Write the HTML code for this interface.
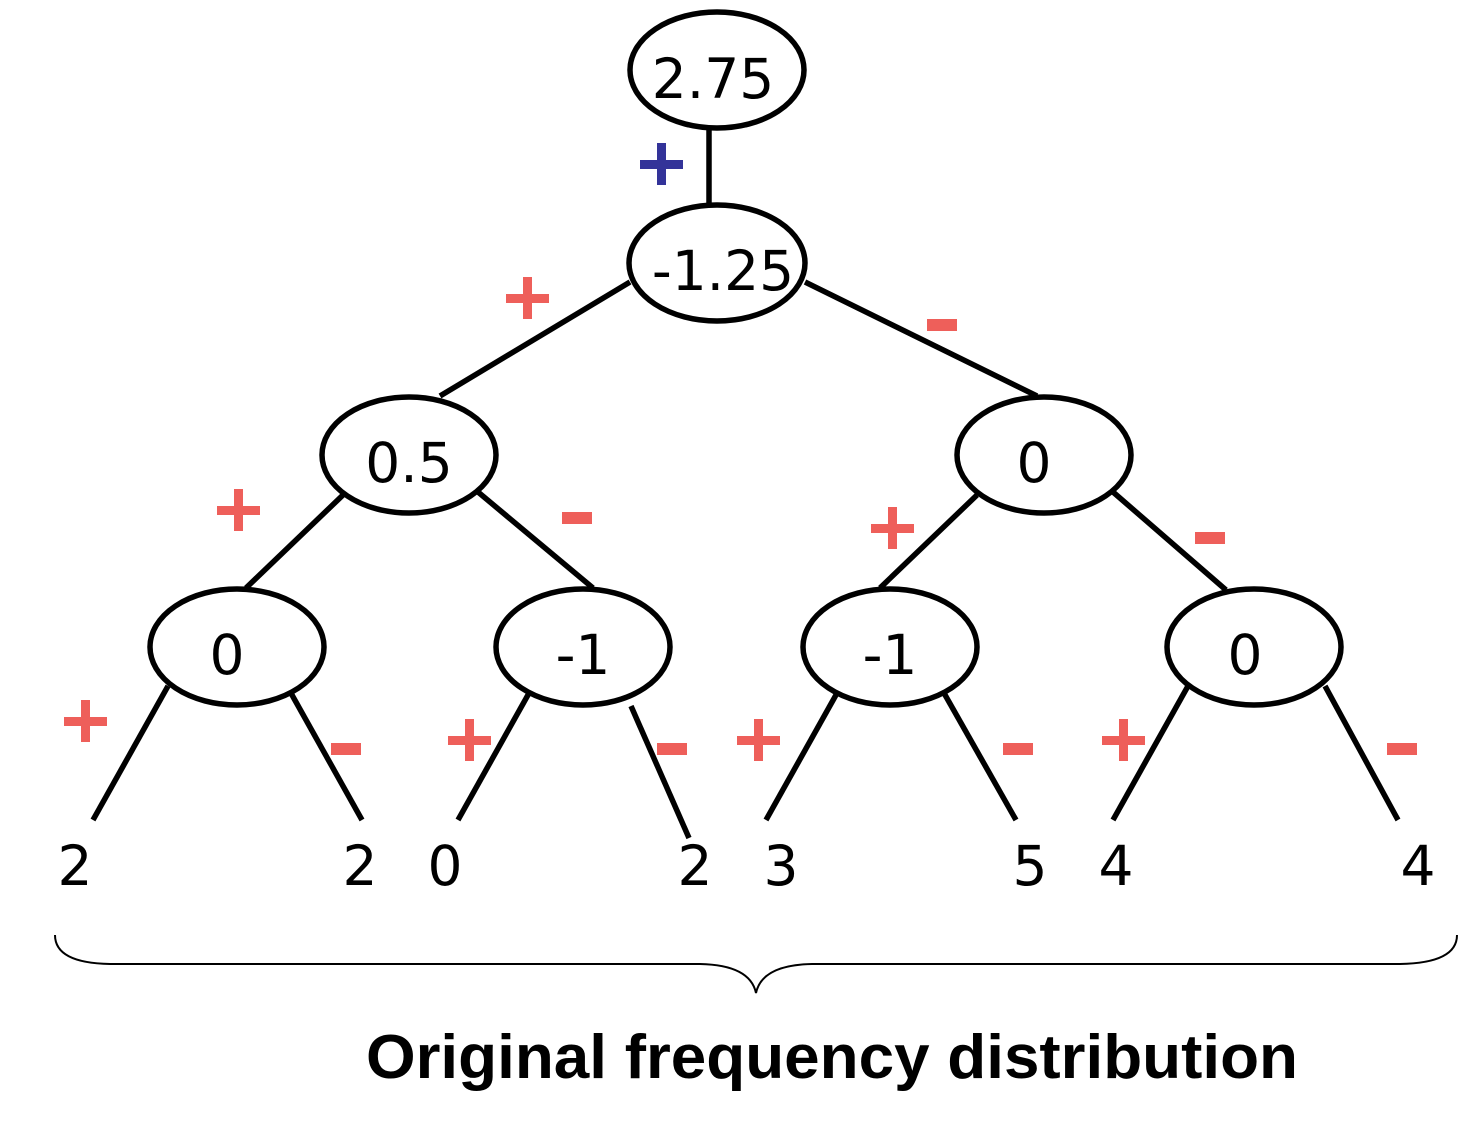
<!DOCTYPE html>
<html><head><meta charset="utf-8"><style>html,body{margin:0;padding:0;background:#fff}svg{display:block}</style></head>
<body>
<svg width="1484" height="1132" viewBox="0 0 1484 1132" xmlns="http://www.w3.org/2000/svg">
<g stroke="#000" stroke-width="5.5" fill="none">
<line x1="709" y1="128" x2="709" y2="205"/>
<line x1="630" y1="282" x2="440" y2="396"/>
<line x1="805" y1="282" x2="1037" y2="396"/>
<line x1="343" y1="495" x2="246" y2="588"/>
<line x1="478" y1="492" x2="593" y2="588"/>
<line x1="977" y1="495" x2="880" y2="588"/>
<line x1="1113" y1="492" x2="1226" y2="590"/>
<line x1="168" y1="686" x2="93" y2="820"/>
<line x1="287" y1="686" x2="362" y2="820"/>
<line x1="533" y1="686" x2="458" y2="820"/>
<line x1="631" y1="706" x2="689" y2="838"/>
<line x1="841" y1="686" x2="766" y2="820"/>
<line x1="940" y1="686" x2="1016" y2="820"/>
<line x1="1188" y1="686" x2="1113" y2="820"/>
<line x1="1325" y1="686" x2="1398" y2="820"/>
</g>
<g stroke="#000" stroke-width="5.5" fill="#fff">
<ellipse cx="717" cy="70" rx="87" ry="58"/>
<ellipse cx="717" cy="263" rx="88" ry="58"/>
<ellipse cx="409" cy="455" rx="87" ry="58"/>
<ellipse cx="1044" cy="455" rx="87" ry="58"/>
<ellipse cx="237" cy="647" rx="87" ry="58"/>
<ellipse cx="583" cy="647" rx="87" ry="58"/>
<ellipse cx="890" cy="647" rx="87" ry="58"/>
<ellipse cx="1254" cy="647" rx="87" ry="58"/>
</g>
<g font-family="'DejaVu Sans', 'Liberation Sans', sans-serif" font-size="55" fill="#000" text-anchor="middle">
<text x="713" y="98">2.75</text>
<text x="723" y="290">-1.25</text>
<text x="409" y="482">0.5</text>
<text x="1034" y="482">0</text>
<text x="227" y="674">0</text>
<text x="583" y="674">-1</text>
<text x="890" y="674">-1</text>
<text x="1245" y="674">0</text>
<text x="75" y="885">2</text>
<text x="360" y="885">2</text>
<text x="445" y="885">0</text>
<text x="695" y="885">2</text>
<text x="781" y="885">3</text>
<text x="1030" y="885">5</text>
<text x="1116" y="885">4</text>
<text x="1418" y="885">4</text>
</g>
<g fill="#333399">
<rect x="640" y="160" width="43" height="9"/><rect x="657" y="143" width="9" height="42"/>
</g>
<g fill="#ee5f5a">
<rect x="506" y="294" width="43" height="9"/><rect x="523" y="277" width="9" height="42"/>
<rect x="217" y="506" width="43" height="9"/><rect x="234" y="489" width="9" height="42"/>
<rect x="871" y="524" width="43" height="9"/><rect x="888" y="507" width="9" height="42"/>
<rect x="64" y="717" width="43" height="9"/><rect x="81" y="700" width="9" height="42"/>
<rect x="448" y="736" width="43" height="9"/><rect x="465" y="719" width="9" height="42"/>
<rect x="737" y="736" width="43" height="9"/><rect x="754" y="719" width="9" height="42"/>
<rect x="1102" y="736" width="43" height="9"/><rect x="1119" y="719" width="9" height="42"/>
<rect x="927" y="319" width="30" height="12"/>
<rect x="562" y="512" width="30" height="12"/>
<rect x="1195" y="532" width="30" height="12"/>
<rect x="331" y="743" width="30" height="12"/>
<rect x="657" y="743" width="30" height="12"/>
<rect x="1003" y="743" width="30" height="12"/>
<rect x="1387" y="743" width="30" height="12"/>
</g>
<path d="M55,935 Q55,963 110,964 L700,964 Q750,965 756,993 Q762,965 812,964 L1400,964 Q1457,963 1457,935" stroke="#000" stroke-width="2" fill="none"/>
<text x="366" y="1078" font-family="'Liberation Sans', Arial, sans-serif" font-weight="bold" font-size="62" textLength="932" lengthAdjust="spacingAndGlyphs" fill="#000">Original frequency distribution</text>
</svg>
</body></html>
